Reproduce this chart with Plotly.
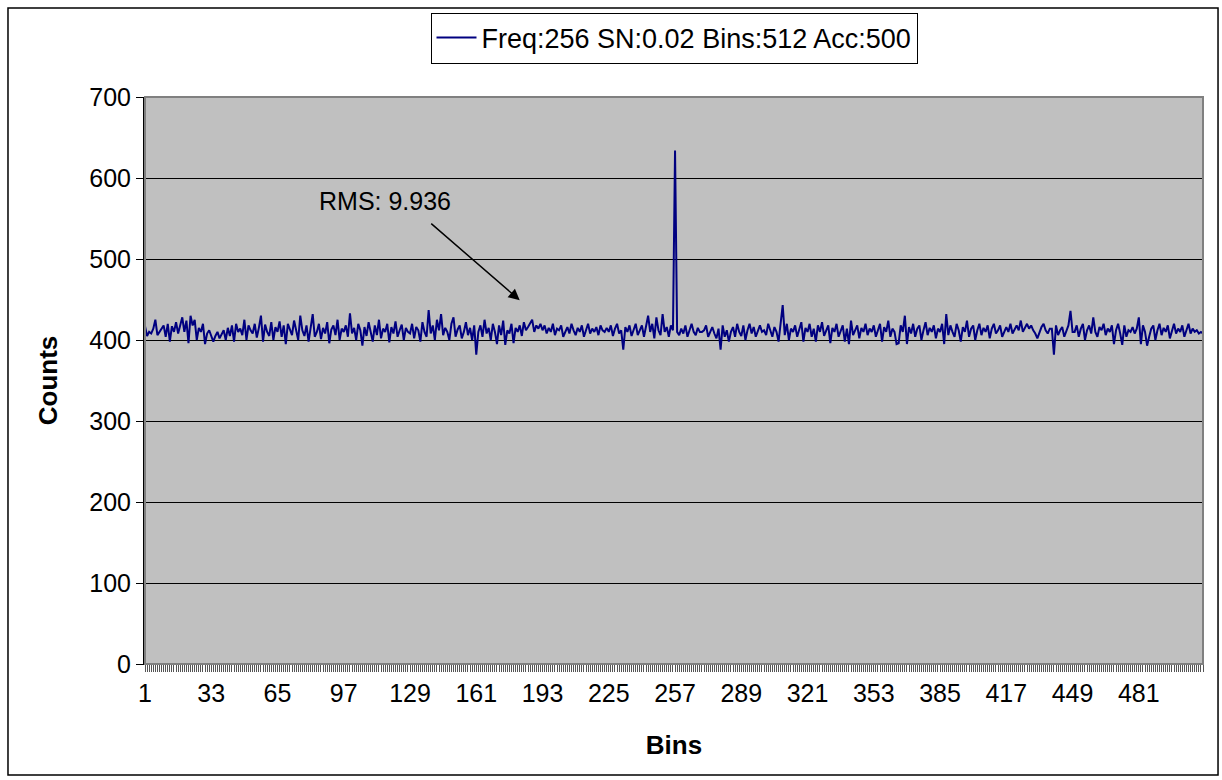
import plotly.graph_objects as go

bins = list(range(1, 513))
counts = [
    # 1-32
    417, 405, 410, 408, 414, 425, 406, 410, 415, 418, 404, 420, 398, 417, 410, 422, 408, 419, 428, 410, 424, 396, 430, 418, 425, 400, 415, 410, 420, 395, 408, 412,
    # 33-64
    404, 398, 405, 410, 402, 408, 412, 400, 415, 405, 418, 398, 420, 410, 414, 406, 425, 400, 418, 412, 408, 420, 403, 415, 430, 398, 419, 410, 405, 422, 400, 416,
    # 65-96
    410, 423, 404, 418, 395, 420, 412, 406, 424, 410, 400, 430, 412, 405, 418, 398, 416, 432, 404, 410, 420, 401, 415, 408, 422, 396, 413, 418, 406, 425, 400, 414,
    # 97-128
    410, 418, 404, 433, 408, 415, 400, 420, 412, 393, 416, 405, 422, 410, 398, 418, 406, 425, 402, 414, 410, 420, 397, 416, 408, 423, 404, 412, 419, 400, 415, 410,
    # 129-160
    408, 420, 402, 416, 412, 398, 422, 410, 404, 437, 408, 418, 400, 425, 412, 432, 406, 415, 410, 400, 420, 428, 404, 413, 418, 402, 410, 422, 406, 415, 400, 418,
    # 161-192
    382, 410, 418, 404, 425, 408, 415, 400, 420, 410, 395, 418, 406, 424, 394, 412, 408, 420, 396, 415, 410, 418, 405, 422, 412, 416, 420, 425, 410, 418, 414, 420,
    # 193-224
    412, 418, 408, 415, 410, 420, 406, 414, 412, 418, 404, 410, 416, 408, 420, 412, 406, 415, 410, 418, 404, 412, 420, 408, 414, 410, 416, 406, 418, 412, 410, 415,
    # 225-256
    410, 418, 405, 414, 420, 408, 412, 388, 416, 410, 418, 405, 414, 420, 406, 412, 418, 404, 415, 430, 410, 420, 402, 428, 412, 406, 432, 410, 416, 404, 418, 412,
    # 257-288
    634, 410, 406, 414, 408, 418, 404, 412, 420, 410, 406, 415, 410, 410, 412, 418, 404, 410, 416, 408, 402, 414, 388, 418, 404, 412, 398, 410, 416, 404, 420, 410,
    # 289-320
    405, 418, 400, 412, 420, 408, 416, 404, 412, 418, 410, 412, 406, 420, 412, 404, 416, 410, 398, 418, 443, 406, 420, 400, 414, 410, 418, 404, 412, 422, 398, 415,
    # 321-352
    410, 420, 404, 414, 398, 418, 410, 422, 405, 412, 418, 396, 415, 410, 420, 404, 412, 418, 398, 414, 395, 424, 406, 412, 418, 402, 415, 410, 420, 406, 414, 410,
    # 353-384
    418, 404, 412, 420, 398, 416, 410, 424, 404, 414, 410, 395, 396, 418, 410, 430, 395, 416, 408, 420, 404, 414, 418, 400, 412, 422, 406, 415, 410, 418, 402, 414,
    # 385-416
    410, 420, 395, 432, 406, 418, 410, 404, 420, 412, 398, 416, 410, 424, 404, 414, 418, 400, 412, 420, 406, 415, 410, 418, 402, 414, 420, 408, 412, 418, 404, 410,
    # 417-448
    416, 410, 420, 408, 414, 418, 412, 424, 410, 416, 420, 414, 418, 412, 408, 402, 410, 416, 420, 412, 408, 414, 414, 382, 418, 406, 412, 416, 404, 410, 418, 436,
    # 449-480
    410, 410, 418, 404, 414, 420, 400, 412, 418, 408, 428, 410, 404, 416, 412, 420, 406, 414, 410, 418, 395, 412, 420, 408, 394, 418, 404, 412, 410, 416, 408, 414,
    # 481-512
    428, 395, 418, 410, 393, 404, 414, 418, 400, 412, 420, 406, 415, 410, 418, 402, 412, 420, 408, 414, 410, 418, 404, 412, 420, 408, 414, 410, 412, 408, 410, 408,
]
tick_labels = [str(b) if (b - 1) % 32 == 0 else "" for b in bins]
series_name = "Freq:256 SN:0.02 Bins:512 Acc:500"
rms_text = "RMS: 9.936"

font = "Arial, Liberation Sans, sans-serif"
fs = 25

fig = go.Figure()
fig.add_trace(go.Scatter(
    x=bins, y=counts, mode="lines", name=series_name,
    line=dict(color="#000080", width=2),
))

fig.update_layout(
    width=1222, height=780,
    margin=dict(l=145, r=19, t=97, b=116, autoexpand=False),
    paper_bgcolor="white",
    plot_bgcolor="#C0C0C0",
    font=dict(family=font, size=fs, color="black"),
    showlegend=True,
    legend=dict(
        x=0.5, y=1.149, xref="paper", yref="paper",
        xanchor="center", yanchor="top",
        bordercolor="black", borderwidth=1, bgcolor="white",
        font=dict(size=27), itemwidth=40,
        tracegroupgap=0,
    ),
    xaxis=dict(
        range=[1, 512], tickmode="array", tickvals=bins, ticktext=tick_labels,
        ticks="outside", ticklen=7, tickwidth=1, tickcolor="#555555",
        showgrid=False, zeroline=False, showline=True, linecolor="black", linewidth=1,
        tickangle=0, tickfont=dict(size=fs),
        title=dict(text="<b>Bins</b>", font=dict(size=26), standoff=29),
    ),
    yaxis=dict(
        range=[0, 700], dtick=100, ticks="outside", ticklen=7, tickcolor="black",
        showgrid=True, gridcolor="black", gridwidth=1, zeroline=False,
        showline=True, linecolor="black", linewidth=2, tickfont=dict(size=fs),
        title=dict(text="<b>Counts</b>", font=dict(size=26), standoff=24),
    ),
    annotations=[
        dict(x=182, y=449, xref="x", yref="y", ax=-90, ay=-78, axref="pixel", ayref="pixel",
             text="", showarrow=True, arrowhead=2, arrowsize=1.5, arrowwidth=1.5, arrowcolor="black"),
        dict(x=117, y=572, xref="x", yref="y", text=rms_text, showarrow=False,
             font=dict(size=fs)),
    ],
    shapes=[
        dict(type="rect", xref="paper", yref="paper", x0=0, x1=1, y0=0, y1=1,
             line=dict(color="#808080", width=2), layer="above"),
        dict(type="rect", xref="paper", yref="paper", x0=-0.1295, x1=1.0142, y0=-0.1958, y1=1.157,
             line=dict(color="black", width=1.5), layer="below"),
    ],
)
fig.write_html("out.html")
